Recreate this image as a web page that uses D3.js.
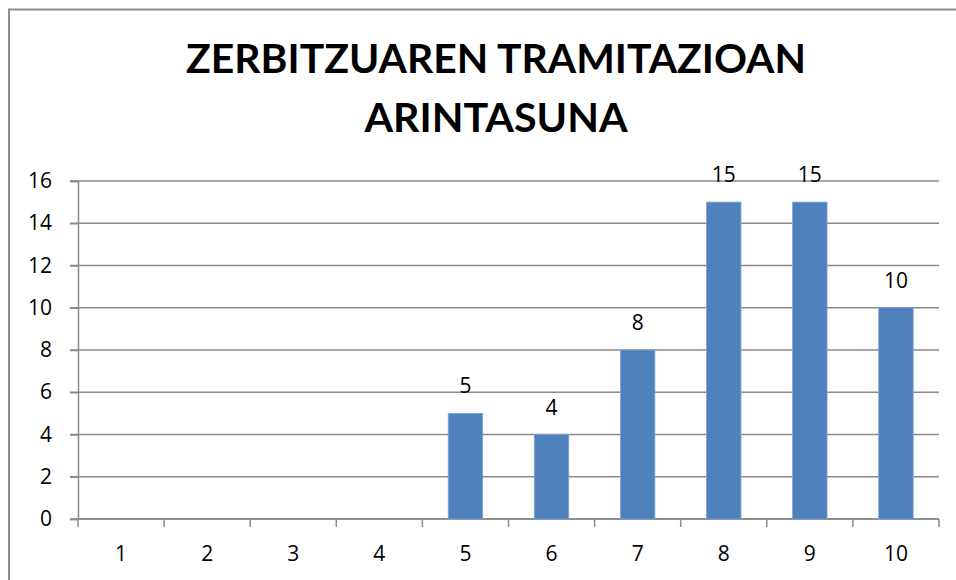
<!DOCTYPE html>
<html>
<head>
<meta charset="utf-8">
<script src="https://cdn.jsdelivr.net/npm/d3@7"></script>
<style>
  body { margin: 0; background: #fff; }
  svg { display: block; font-family: "Open Sans", Lato, sans-serif; }
  .title { font-family: Lato, "Open Sans", sans-serif; }
</style>
</head>
<body>
<svg id="chart" width="956" height="580"></svg>
<script>
const categories = ["1", "2", "3", "4", "5", "6", "7", "8", "9", "10"];
const values = [0, 0, 0, 0, 5, 4, 8, 15, 15, 10];
const yTicks = [0, 2, 4, 6, 8, 10, 12, 14, 16];
const titleLines = ["ZERBITZUAREN TRAMITAZIOAN", "ARINTASUNA"];

const svg = d3.select("#chart");
const margin = { top: 181, right: 17, bottom: 61, left: 78 },
      width = 956 - margin.left - margin.right,
      height = 580 - margin.top - margin.bottom;

// outer chart frame (runs off the right/bottom edge)
svg.append("rect")
  .attr("x", 9).attr("y", 9.5)
  .attr("width", 1000).attr("height", 1000)
  .attr("fill", "none")
  .attr("stroke", "#8c8c8c")
  .attr("stroke-width", 2);

svg.selectAll("text.title")
  .data(titleLines)
  .join("text")
  .attr("class", "title")
  .attr("x", 496)
  .attr("y", (d, i) => 73 + i * 59)
  .attr("text-anchor", "middle")
  .attr("textLength", (d, i) => i === 0 ? 620 : 263)
  .attr("lengthAdjust", "spacingAndGlyphs")
  .style("font-weight", "bold")
  .style("font-size", "41px")
  .style("fill", "#000")
  .text(d => d);

const g = svg.append("g")
  .attr("transform", `translate(${margin.left},${margin.top})`);

const x = d3.scaleBand().domain(categories).range([0, width])
  .paddingInner(0.6).paddingOuter(0.3);
const y = d3.scaleLinear().domain([0, 16]).range([height, 0]);

// gridlines
g.selectAll("line.grid")
  .data(yTicks)
  .join("line")
  .attr("class", "grid")
  .attr("x1", -8).attr("x2", width)
  .attr("y1", d => y(d)).attr("y2", d => y(d))
  .attr("stroke", "#8a8a8a")
  .attr("stroke-width", 1.5);

const yAxis = g.append("g")
  .call(d3.axisLeft(y).tickValues(yTicks).tickSize(8).tickPadding(18));
yAxis.attr("font-family", null);
yAxis.select(".domain").attr("stroke", "#8a8a8a").attr("stroke-width", 1.5);
yAxis.selectAll(".tick line").attr("stroke", "#8a8a8a").attr("stroke-width", 1.5);
yAxis.selectAll("text").style("font-size", "21px").attr("fill", "#000");

// x axis ticks at category boundaries
const step = x.step();
const bounds = d3.range(categories.length + 1).map(i => i * step);
g.selectAll("line.xtick")
  .data(bounds)
  .join("line")
  .attr("class", "xtick")
  .attr("x1", d => d).attr("x2", d => d)
  .attr("y1", height).attr("y2", height + 8)
  .attr("stroke", "#8a8a8a")
  .attr("stroke-width", 1.5);
g.append("line")
  .attr("x1", 0).attr("x2", width)
  .attr("y1", height).attr("y2", height)
  .attr("stroke", "#8a8a8a")
  .attr("stroke-width", 1.5);

g.selectAll("text.xlab")
  .data(categories)
  .join("text")
  .attr("class", "xlab")
  .attr("x", d => x(d) + x.bandwidth() / 2)
  .attr("y", height + 42)
  .attr("text-anchor", "middle")
  .style("font-size", "21px")
  .text(d => d);

const bars = categories.map((c, i) => ({ cat: c, value: values[i] }));

g.selectAll("rect.bar")
  .data(bars.filter(d => d.value > 0))
  .join("rect")
  .attr("class", "bar")
  .attr("x", d => x(d.cat))
  .attr("y", d => y(d.value))
  .attr("width", x.bandwidth())
  .attr("height", d => height - y(d.value))
  .attr("fill", "#4f81bd")
  .attr("stroke", "#7fa2d0")
  .attr("stroke-width", 0.8);

g.selectAll("text.val")
  .data(bars.filter(d => d.value > 0))
  .join("text")
  .attr("class", "val")
  .attr("x", d => x(d.cat) + x.bandwidth() / 2)
  .attr("y", d => y(d.value) - 20)
  .attr("text-anchor", "middle")
  .style("font-size", "21px")
  .text(d => d.value);
</script>
</body>
</html>
